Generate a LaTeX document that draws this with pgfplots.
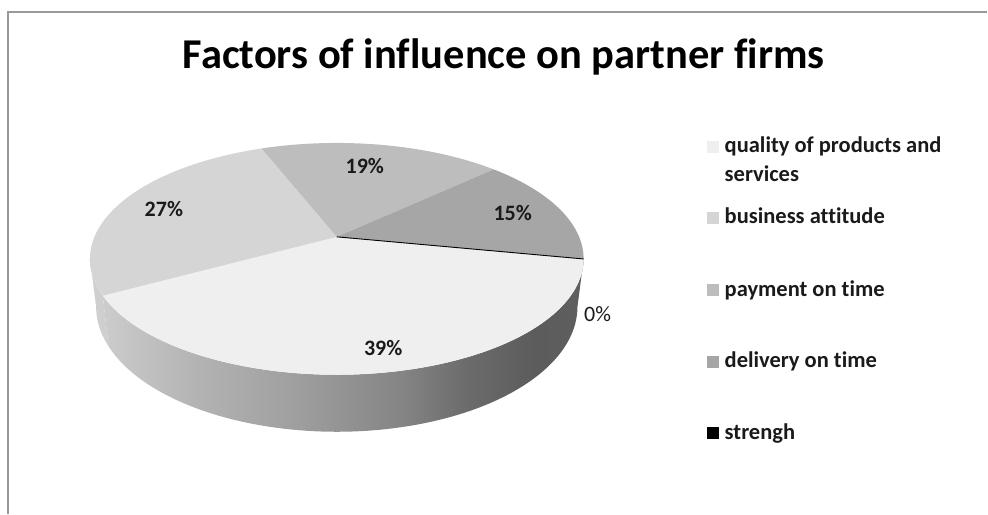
\documentclass[border=0pt]{standalone}
\usepackage{pgfplots}
\pgfplotsset{compat=1.18}
\usepackage{pgfplotstable}
\usepackage{fontspec}
\setmainfont[Ligatures=NoCommon]{Carlito}
\definecolor{cQual}{HTML}{EFEFEF}
\definecolor{cBus}{HTML}{D5D5D5}
\definecolor{cPay}{HTML}{BDBDBD}
\definecolor{cDel}{HTML}{A6A6A6}
\definecolor{cStr}{HTML}{000000}
\definecolor{cBusSide}{HTML}{CFCFCF}
\definecolor{txt}{HTML}{1A1A1A}
\definecolor{sA}{gray}{0.80}
\definecolor{sB}{gray}{0.70}
\definecolor{sC}{gray}{0.62}
\definecolor{sD}{gray}{0.52}
\definecolor{sE}{gray}{0.42}
\definecolor{sF}{gray}{0.36}
\definecolor{sG}{gray}{0.37}
\pgfdeclarehorizontalshading{qualside}{100bp}{color(0bp)=(sA); color(25bp)=(sA); color(35bp)=(sB); color(45.5bp)=(sC); color(56bp)=(sD); color(63bp)=(sE); color(70bp)=(sF); color(75bp)=(sG); color(100bp)=(sG)}
\pgfplotstableread{
label value
quality 39
business 27
payment 19
delivery 15
strengh 0
}\piedata
\begin{document}
\begin{tikzpicture}[declare function={
  dd(\t)=1+0.19*sin(\t);
  px(\t)=337+242.5*cos(\t)/dd(\t);
  py(\t)=-237+111.8*sin(\t)/dd(\t);
  bx(\t)=337+0.975*242.5*cos(\t)/dd(\t);
  pb(\t)=py(\t)-46.2/dd(\t);
}]
\pgfmathsetmacro{\tS}{-11}
\pgfplotstablegetelem{0}{value}\of\piedata \pgfmathsetmacro{\tA}{\tS-3.6*\pgfplotsretval}
\pgfplotstablegetelem{1}{value}\of\piedata \pgfmathsetmacro{\tB}{\tA-3.6*\pgfplotsretval}
\pgfplotstablegetelem{2}{value}\of\piedata \pgfmathsetmacro{\tC}{\tB-3.6*\pgfplotsretval}
\pgfplotstablegetelem{3}{value}\of\piedata \pgfmathsetmacro{\tD}{\tC-3.6*\pgfplotsretval}
\pgfplotstablegetelem{4}{value}\of\piedata \pgfmathsetmacro{\tE}{\tD-3.6*\pgfplotsretval}
\pgfmathsetmacro{\tL}{-180+asin(0.19)}
\begin{axis}[width=988pt, height=514pt, scale only axis,
  xmin=0, xmax=988, ymin=-514, ymax=0, axis lines=none, clip=false]
\addplot[draw=none, forget plot] coordinates {(0,-514) (988,0)};
% border
\draw[draw=gray!80, line width=1.3pt] (8,-514) -- (8,-12) -- (988,-12);
% sides
\fill[cBusSide] ({px(\tA)},{py(\tA)}) -- plot[domain=\tA:\tL, samples=30, variable=\t] ({px(\t)},{py(\t)})
   -- plot[domain=\tL:\tA, samples=30, variable=\t] ({bx(\t)},{pb(\t)}) -- cycle;
\shade[shading=qualside] ({px(\tS)},{py(\tS)}) -- plot[domain=\tS:\tA, samples=90, variable=\t] ({px(\t)},{py(\t)})
   -- plot[domain=\tA:\tS, samples=90, variable=\t] ({bx(\t)},{pb(\t)}) -- cycle;
% top faces
\fill[cQual] (337,-237) -- plot[domain=\tA:\tS, samples=90, variable=\t] ({px(\t)},{py(\t)}) -- cycle;
\fill[cBus] (337,-237) -- plot[domain=\tB:\tA, samples=70, variable=\t] ({px(\t)},{py(\t)}) -- cycle;
\fill[cPay] (337,-237) -- plot[domain=\tC:\tB, samples=60, variable=\t] ({px(\t)},{py(\t)}) -- cycle;
\fill[cDel] (337,-237) -- plot[domain=\tD:\tC, samples=50, variable=\t] ({px(\t)},{py(\t)}) -- cycle;
\draw[cStr, line width=0.9pt] (337,-237) -- ({px(\tE)},{py(\tE)});
% data labels
\begin{scope}[every node/.style={font=\bfseries\fontsize{22}{26}\selectfont, text=txt, inner sep=0pt, anchor=base}]
\node at (383.5,-356) {39\%};
\node at (164,-217) {27\%};
\node at (365,-174) {19\%};
\node at (513,-220.7) {15\%};
\node[font=\fontsize{22}{26}\selectfont, text=txt] at (598,-321.7) {0\%};
\end{scope}
% title
\node[font=\bfseries\fontsize{42.5}{50}\selectfont, text=black, inner sep=0pt, anchor=base] at (504,-69) {Factors of influence on partner firms};
% legend
\begin{scope}[every node/.style={font=\bfseries\fontsize{22.5}{26}\selectfont, text=txt, inner sep=0pt, anchor=base west}]
\fill[cQual] (707,-141) rectangle (719,-153);
\node at (725,-153) {quality of products and};
\node at (725,-181.7) {services};
\fill[cBus] (707,-212) rectangle (719,-224);
\node at (725,-224) {business attitude};
\fill[cPay] (707,-284.5) rectangle (719,-296.5);
\node at (725,-296.5) {payment on time};
\fill[cDel] (707,-356) rectangle (719,-368);
\node at (725,-368) {delivery on time};
\fill[cStr] (707,-427.5) rectangle (719,-439.5);
\node at (725,-439.5) {strengh};
\end{scope}
\end{axis}
\end{tikzpicture}
\end{document}
